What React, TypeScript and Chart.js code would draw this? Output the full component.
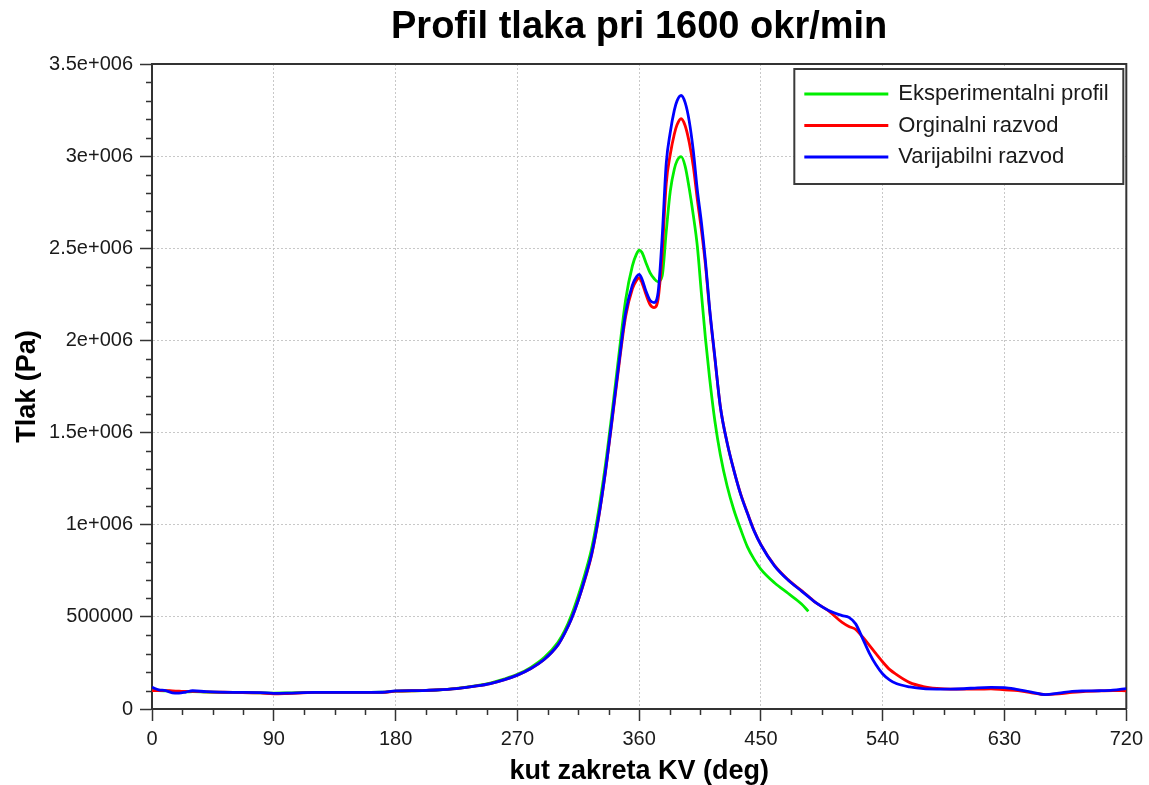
import React, { useEffect, useRef } from "react";
import { Chart, registerables } from "chart.js";

Chart.register(...registerables);

// ---- data ----
const angles = [
  0, 5, 10, 15, 20, 25, 30, 40, 60, 80, 90, 100, 120, 150, 170, 180, 200, 210, 225, 240,
  250, 260, 270, 280, 290, 300, 305, 310, 315, 320, 325, 330, 335, 340, 345, 350, 355, 358, 360, 362,
  365, 368, 371, 374, 377, 380, 383, 386, 388, 391, 394, 397, 400, 403, 406, 409, 412, 416, 420, 425,
  430, 435, 440, 445, 450, 460, 470, 480, 485, 490, 500, 510, 515, 520, 525, 530, 535, 540, 545, 550,
  560, 570, 580, 590, 600, 610, 620, 630, 640, 650, 660, 670, 680, 690, 700, 710, 720,
];

// pressures in kPa
const experimentalKPa = [
  100, 100, 98, 95, 93, 93, 94, 92, 90, 88, 86, 87, 90, 90, 91, 97, 100, 103, 112, 127,
  141, 162, 188, 226, 280, 362, 425, 510, 615, 735, 875, 1075, 1320, 1610, 1920, 2220, 2405, 2468, 2490, 2478,
  2422, 2368, 2336, 2318, 2350, 2590, 2810, 2930, 2975, 2997, 2945, 2825, 2680, 2510, 2255, 2010, 1800, 1560, 1380, 1210,
  1080, 975, 880, 812, 758, 685, 628, 570, 530,
];

const originalKPa = [
  100, 100, 100, 98, 97, 95, 96, 93, 90, 87, 82, 84, 90, 90, 90, 97, 100, 103, 111, 125,
  138, 158, 184, 220, 270, 348, 412, 490, 590, 705, 840, 1035, 1280, 1565, 1860, 2130, 2280, 2325, 2340, 2315,
  2250, 2195, 2178, 2225, 2470, 2850, 3010, 3120, 3170, 3203, 3165, 3075, 2945, 2765, 2600, 2410, 2170, 1900, 1640, 1445,
  1295, 1167, 1064, 967, 892, 779, 702, 642, 612, 580, 532, 470, 448, 432, 392, 347, 300, 255, 215, 188,
  143, 122, 112, 108, 108, 108, 109, 104, 100, 88, 78, 82, 90, 96, 98, 100, 99,
];

const variableKPa = [
  117, 104, 100, 88, 86, 92, 99, 94, 90, 89, 85, 86, 90, 90, 91, 98, 100, 103, 111, 125,
  138, 158, 184, 220, 270, 348, 412, 490, 590, 710, 845, 1040, 1285, 1575, 1875, 2150, 2300, 2345, 2358, 2335,
  2268, 2218, 2205, 2260, 2560, 2960, 3130, 3250, 3300, 3329, 3290, 3190, 3030, 2815, 2640, 2430, 2180, 1905, 1640, 1445,
  1295, 1165, 1062, 965, 890, 777, 700, 640, 610, 580, 535, 507, 497, 462, 385, 305, 240, 190, 158, 138,
  120, 110, 108, 108, 110, 115, 117, 116, 105, 92, 78, 86, 96, 98, 99, 102, 111,
];

const seriesLabels = ["Eksperimentalni profil", "Orginalni razvod", "Varijabilni razvod"];
const seriesColors = ["#00ee00", "#ff0000", "#0000ff"];

const xTickValues = [0, 90, 180, 270, 360, 450, 540, 630, 720];
const yTickValues = [0, 500000, 1000000, 1500000, 2000000, 2500000, 3000000, 3500000];
const yTickLabels = ["0", "500000", "1e+006", "1.5e+006", "2e+006", "2.5e+006", "3e+006", "3.5e+006"];

const FONT = "'Liberation Sans', Arial, Helvetica, sans-serif";
const AXIS_COLOR = "#333333";
const TEXT_COLOR = "#1a1a1a";

const toPoints = (vals: number[]) => vals.map((v, i) => ({ x: angles[i], y: v * 1000 }));

const decorPlugin = {
  id: "decor",
  beforeDatasetsDraw(chart: any) {
    const { ctx, chartArea: a, scales } = chart;
    ctx.save();
    // top & right frame
    ctx.strokeStyle = AXIS_COLOR;
    ctx.lineWidth = 2;
    ctx.beginPath();
    ctx.moveTo(a.left, a.top);
    ctx.lineTo(a.right, a.top);
    ctx.lineTo(a.right, a.bottom);
    ctx.stroke();
    // minor ticks
    ctx.lineWidth = 1.5;
    ctx.beginPath();
    const xs = scales.x;
    for (let i = 0; i <= 32; i++) {
      if (i % 4 === 0) continue;
      const px = Math.round(xs.getPixelForValue(i * 22.5)) + 0.5;
      ctx.moveTo(px, a.bottom);
      ctx.lineTo(px, a.bottom + 6);
    }
    const ys = scales.y;
    for (let i = 0; i <= 35; i++) {
      if (i % 5 === 0) continue;
      const py = Math.round(ys.getPixelForValue(i * 100000)) + 0.5;
      ctx.moveTo(a.left - 6, py);
      ctx.lineTo(a.left, py);
    }
    ctx.stroke();
    ctx.restore();
  },
  afterDatasetsDraw(chart: any) {
    const { ctx, chartArea: a } = chart;
    const w = 329;
    const h = 115;
    const right = a.right - 3;
    const left = right - w;
    const top = a.top + 5;
    ctx.save();
    ctx.fillStyle = "#ffffff";
    ctx.fillRect(left, top, w, h);
    ctx.strokeStyle = "#3a3a3a";
    ctx.lineWidth = 2;
    ctx.strokeRect(left, top, w, h);
    ctx.font = `22px ${FONT}`;
    ctx.textBaseline = "middle";
    ctx.textAlign = "left";
    const datasets = chart.data.datasets;
    const order = [2, 1, 0]; // experimental, original, variable
    order.forEach((di: number, row: number) => {
      const ds = datasets[di];
      const y = top + 25 + row * 31.5;
      ctx.strokeStyle = ds.borderColor;
      ctx.lineWidth = 3;
      ctx.beginPath();
      ctx.moveTo(left + 10, y);
      ctx.lineTo(left + 94, y);
      ctx.stroke();
      ctx.fillStyle = TEXT_COLOR;
      ctx.fillText(ds.label, left + 104, y);
    });
    ctx.restore();
  },
};

export default function App() {
  const canvasRef = useRef<HTMLCanvasElement | null>(null);

  useEffect(() => {
    const canvas = canvasRef.current;
    if (!canvas) return;
    const mk = (vals: number[], idx: number) => ({
      label: seriesLabels[idx],
      data: toPoints(vals),
      borderColor: seriesColors[idx],
      backgroundColor: seriesColors[idx],
      borderWidth: 2.8,
      pointRadius: 0,
      fill: false,
      cubicInterpolationMode: "monotone" as const,
    });
    const chart = new Chart(canvas, {
      type: "line",
      data: {
        // index 0 is drawn on top
        datasets: [mk(variableKPa, 2), mk(originalKPa, 1), mk(experimentalKPa, 0)],
      },
      plugins: [decorPlugin],
      options: {
        animation: false,
        responsive: false,
        maintainAspectRatio: false,
        devicePixelRatio: 1,
        layout: { autoPadding: false, padding: { left: 0, right: 16, top: 0, bottom: 0 } },
        plugins: {
          legend: { display: false },
          tooltip: { enabled: false },
          title: {
            display: true,
            fullSize: false,
            text: "Profil tlaka pri 1600 okr/min",
            color: "#000000",
            font: { family: FONT, size: 38, weight: "bold", lineHeight: 1.2 },
            padding: { top: 5, bottom: 13.4 },
          },
        },
        scales: {
          x: {
            type: "linear",
            min: 0,
            max: 720,
            afterFit: (s: any) => {
              s.height = 76;
            },
            afterBuildTicks: (s: any) => {
              s.ticks = xTickValues.map((v) => ({ value: v }));
            },
            ticks: {
              color: TEXT_COLOR,
              font: { family: FONT, size: 20 },
              padding: 6,
              maxRotation: 0,
              autoSkip: false,
              callback: (v: any) => String(v),
            },
            grid: {
              color: "#c8c8c8",
              lineWidth: 1,
              tickColor: AXIS_COLOR,
              tickLength: 12,
              tickWidth: 1.5,
              tickBorderDash: [],
            },
            border: { display: true, color: AXIS_COLOR, width: 2, dash: [2, 2] },
            title: {
              display: true,
              text: "kut zakreta KV (deg)",
              color: "#000000",
              font: { family: FONT, size: 27, weight: "bold", lineHeight: 1.0 },
              padding: { top: 0, bottom: 0 },
            },
          },
          y: {
            type: "linear",
            min: 0,
            max: 3500000,
            afterFit: (s: any) => {
              s.width = 152;
            },
            afterBuildTicks: (s: any) => {
              s.ticks = yTickValues.map((v) => ({ value: v }));
            },
            ticks: {
              color: TEXT_COLOR,
              font: { family: FONT, size: 20 },
              padding: 7,
              autoSkip: false,
              callback: (v: any) => {
                const i = yTickValues.indexOf(Number(v));
                return i >= 0 ? yTickLabels[i] : "";
              },
            },
            grid: {
              color: "#c8c8c8",
              lineWidth: 1,
              tickColor: AXIS_COLOR,
              tickLength: 12,
              tickWidth: 1.5,
              tickBorderDash: [],
            },
            border: { display: true, color: AXIS_COLOR, width: 2, dash: [2, 2] },
            title: {
              display: true,
              text: "Tlak (Pa)",
              color: "#000000",
              font: { family: FONT, size: 27, weight: "bold", lineHeight: 1.2 },
              padding: { top: 11, bottom: 0 },
            },
          },
        },
      } as any,
    });
    return () => chart.destroy();
  }, []);

  return (
    <div style={{ position: "absolute", left: 0, top: 0, width: 1149, height: 785, background: "#ffffff" }}>
      <canvas ref={canvasRef} width={1149} height={785} style={{ width: 1149, height: 785, display: "block" }} />
    </div>
  );
}
